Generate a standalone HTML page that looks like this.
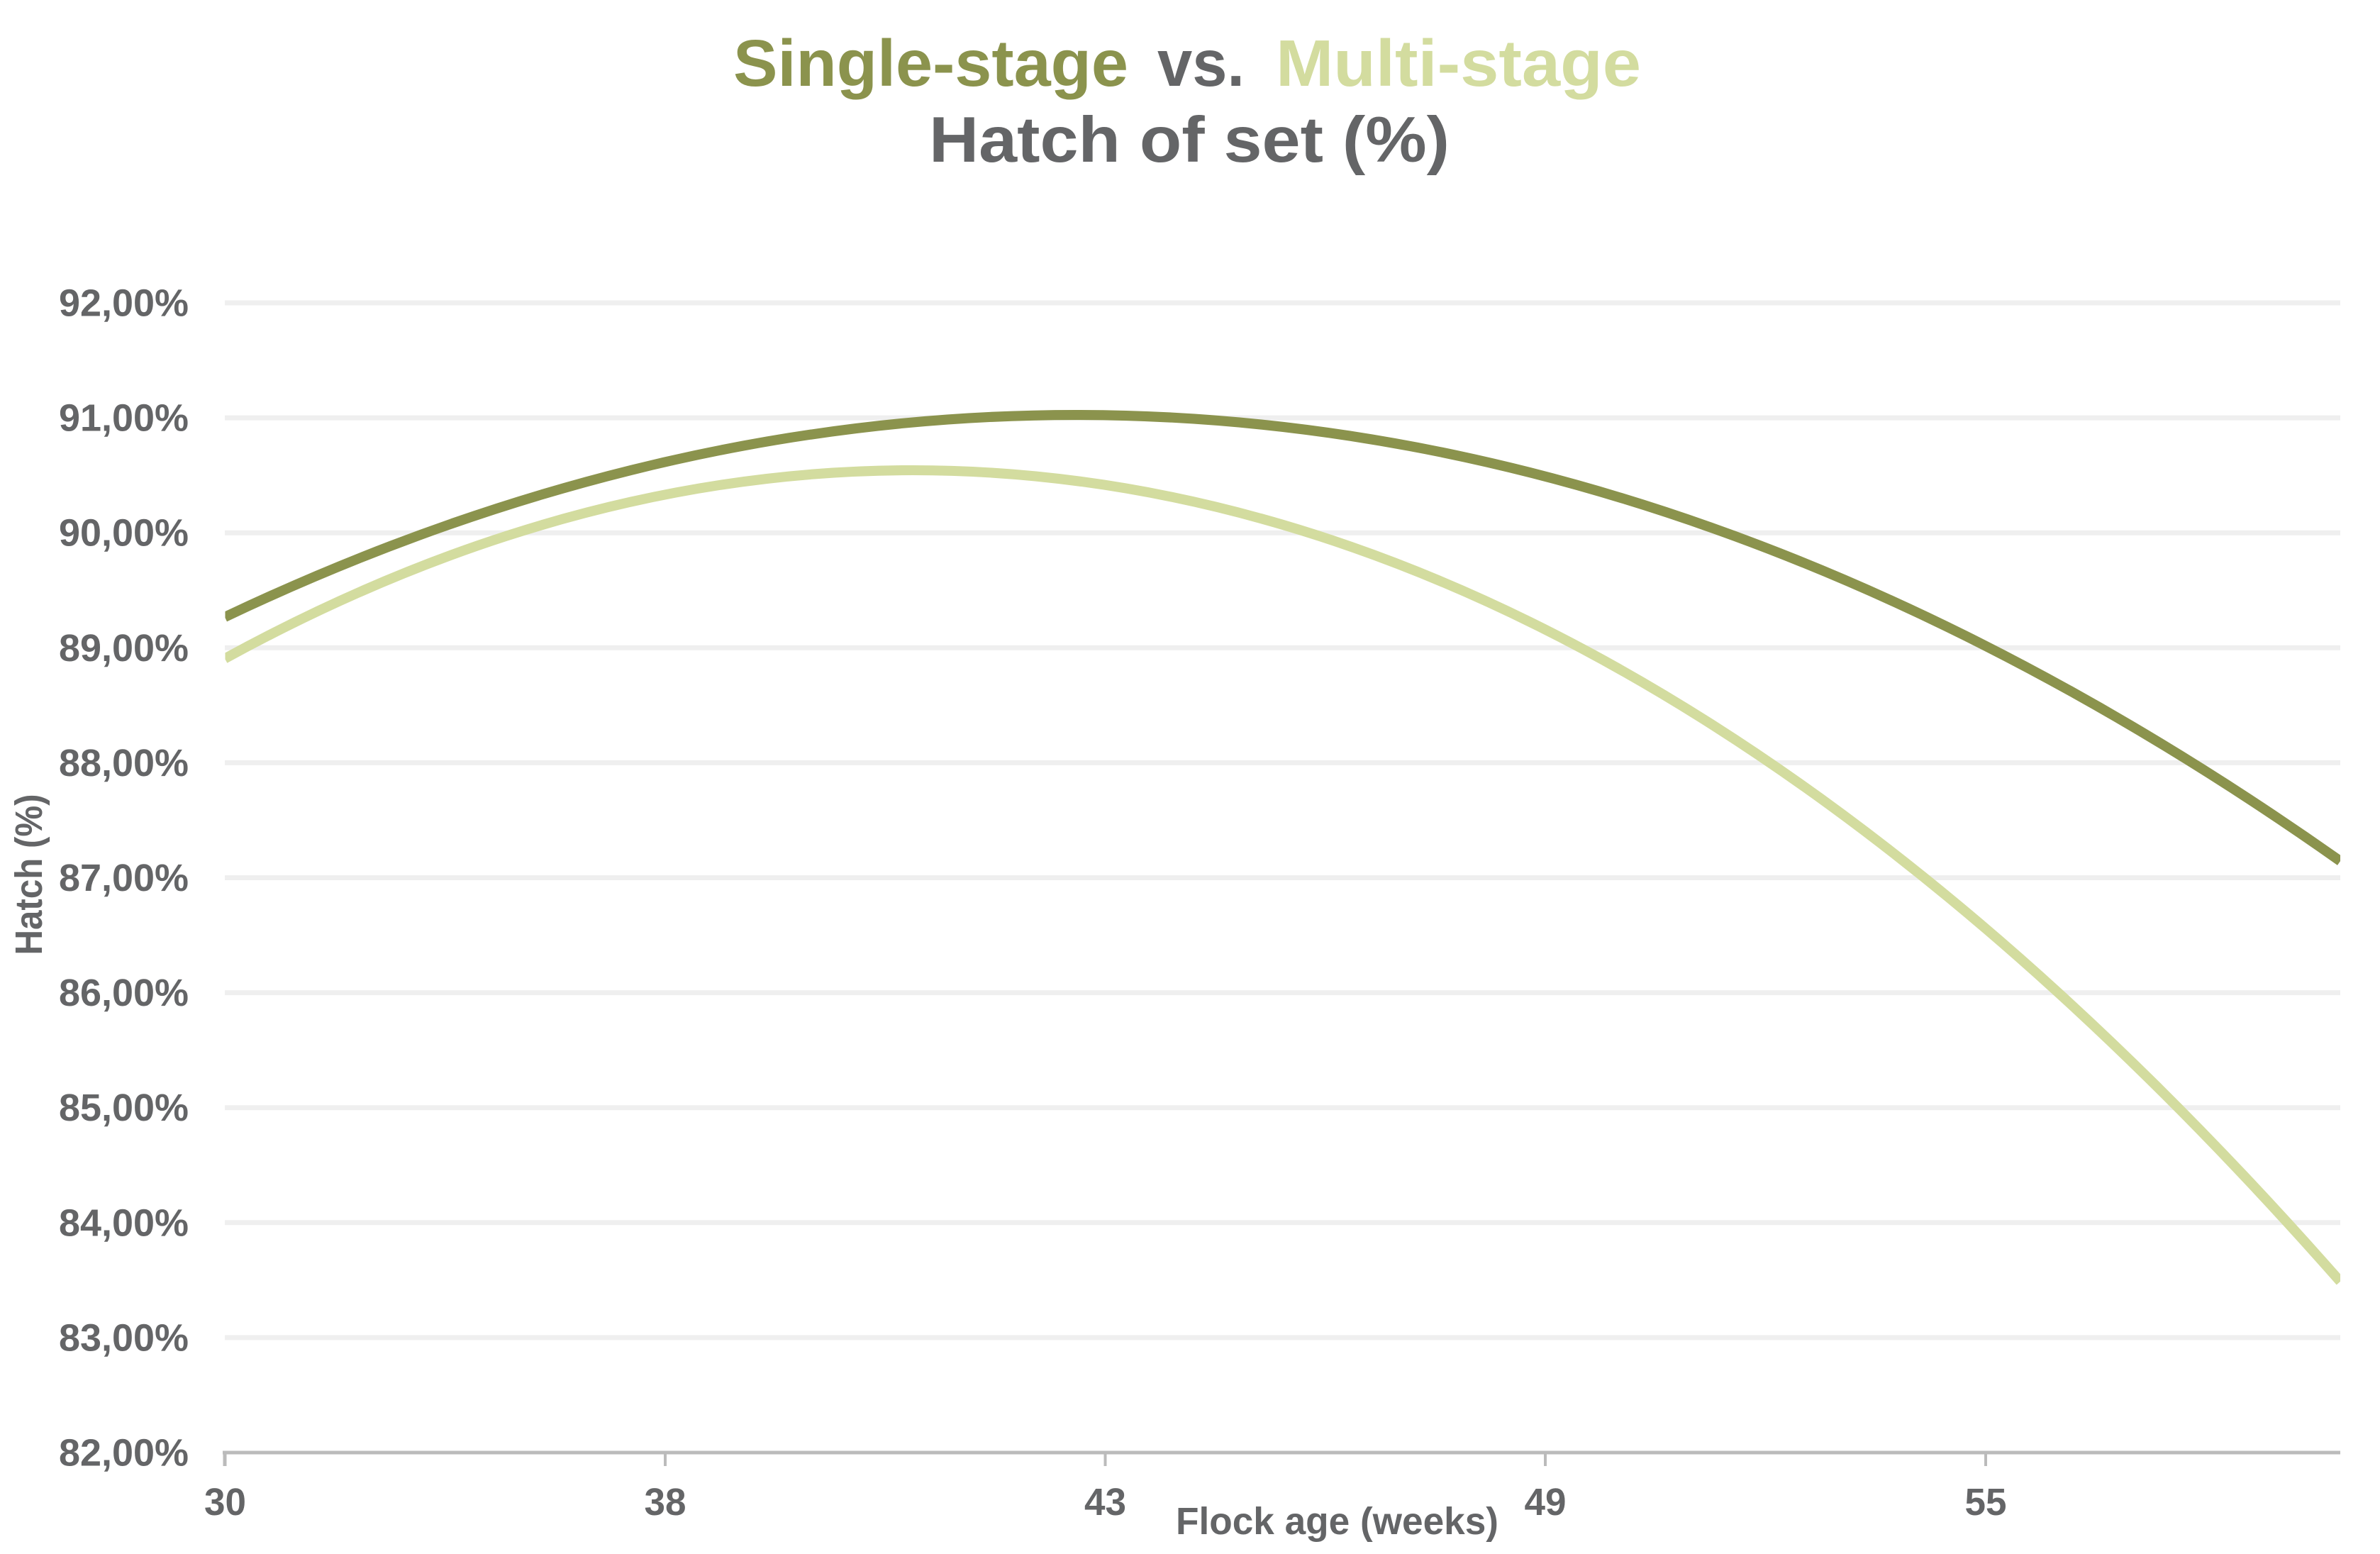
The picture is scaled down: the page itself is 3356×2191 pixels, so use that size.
<!DOCTYPE html>
<html>
<head>
<meta charset="utf-8">
<style>
  html, body { margin: 0; padding: 0; background: #ffffff; }
  svg { display: block; }
  text { font-family: "Liberation Sans", Arial, sans-serif; }
</style>
</head>
<body>
<svg width="3356" height="2191" viewBox="0 0 3356 2191" xmlns="http://www.w3.org/2000/svg">
  <rect x="0" y="0" width="3356" height="2191" fill="#ffffff"/>

  <!-- Title -->
  <text x="1034" y="121" font-size="93" font-weight="bold" fill="#8B934D" textLength="557" lengthAdjust="spacingAndGlyphs">Single-stage</text>
  <text x="1632" y="121" font-size="93" font-weight="bold" fill="#646567" textLength="123" lengthAdjust="spacingAndGlyphs">vs.</text>
  <text x="1799" y="121" font-size="93" font-weight="bold" fill="#D3DC9F" textLength="515" lengthAdjust="spacingAndGlyphs">Multi-stage</text>
  <text x="1310" y="228" font-size="91" font-weight="bold" fill="#646567" textLength="734" lengthAdjust="spacingAndGlyphs">Hatch of set (%)</text>

  <!-- Gridlines -->
  <g stroke="#EFEFEF" stroke-width="7">
    <line x1="317" y1="427" x2="3300" y2="427"/>
    <line x1="317" y1="589.1" x2="3300" y2="589.1"/>
    <line x1="317" y1="751.2" x2="3300" y2="751.2"/>
    <line x1="317" y1="913.3" x2="3300" y2="913.3"/>
    <line x1="317" y1="1075.4" x2="3300" y2="1075.4"/>
    <line x1="317" y1="1237.5" x2="3300" y2="1237.5"/>
    <line x1="317" y1="1399.6" x2="3300" y2="1399.6"/>
    <line x1="317" y1="1561.7" x2="3300" y2="1561.7"/>
    <line x1="317" y1="1723.8" x2="3300" y2="1723.8"/>
    <line x1="317" y1="1885.9" x2="3300" y2="1885.9"/>
  </g>

  <!-- X axis line and ticks -->
  <g stroke="#BBBBBB">
    <line x1="314" y1="2048" x2="3300" y2="2048" stroke-width="5"/>
    <line x1="317" y1="2046" x2="317" y2="2067" stroke-width="5"/>
    <line x1="938" y1="2046" x2="938" y2="2067" stroke-width="4"/>
    <line x1="1558.5" y1="2046" x2="1558.5" y2="2067" stroke-width="4"/>
    <line x1="2179" y1="2046" x2="2179" y2="2067" stroke-width="4"/>
    <line x1="2800" y1="2046" x2="2800" y2="2067" stroke-width="4"/>
  </g>

  <!-- Y tick labels -->
  <g font-size="54" font-weight="bold" fill="#646567" text-anchor="end">
    <text x="266" y="445.5" textLength="183" lengthAdjust="spacingAndGlyphs">92,00%</text>
    <text x="266" y="607.6" textLength="183" lengthAdjust="spacingAndGlyphs">91,00%</text>
    <text x="266" y="769.7" textLength="183" lengthAdjust="spacingAndGlyphs">90,00%</text>
    <text x="266" y="931.8" textLength="183" lengthAdjust="spacingAndGlyphs">89,00%</text>
    <text x="266" y="1093.9" textLength="183" lengthAdjust="spacingAndGlyphs">88,00%</text>
    <text x="266" y="1256" textLength="183" lengthAdjust="spacingAndGlyphs">87,00%</text>
    <text x="266" y="1418.1" textLength="183" lengthAdjust="spacingAndGlyphs">86,00%</text>
    <text x="266" y="1580.2" textLength="183" lengthAdjust="spacingAndGlyphs">85,00%</text>
    <text x="266" y="1742.3" textLength="183" lengthAdjust="spacingAndGlyphs">84,00%</text>
    <text x="266" y="1904.4" textLength="183" lengthAdjust="spacingAndGlyphs">83,00%</text>
    <text x="266" y="2066.5" textLength="183" lengthAdjust="spacingAndGlyphs">82,00%</text>
  </g>

  <!-- X tick labels -->
  <g font-size="54" font-weight="bold" fill="#646567" text-anchor="middle">
    <text x="317.5" y="2136" textLength="59" lengthAdjust="spacingAndGlyphs">30</text>
    <text x="938" y="2136" textLength="59" lengthAdjust="spacingAndGlyphs">38</text>
    <text x="1558.5" y="2136" textLength="59" lengthAdjust="spacingAndGlyphs">43</text>
    <text x="2179" y="2136" textLength="59" lengthAdjust="spacingAndGlyphs">49</text>
    <text x="2800" y="2136" textLength="59" lengthAdjust="spacingAndGlyphs">55</text>
  </g>

  <!-- Axis titles -->
  <text x="1658" y="2163" font-size="54" font-weight="bold" fill="#646567" textLength="455" lengthAdjust="spacingAndGlyphs">Flock age (weeks)</text>
  <text transform="translate(59,1233) rotate(-90)" x="0" y="0" font-size="54" font-weight="bold" fill="#646567" text-anchor="middle" textLength="227" lengthAdjust="spacingAndGlyphs">Hatch (%)</text>

  <!-- Series -->
  <defs>
    <clipPath id="plot">
      <rect x="317.5" y="300" width="2982.5" height="1748"/>
    </clipPath>
  </defs>
  <g clip-path="url(#plot)" fill="none" stroke-width="14" stroke-linecap="butt">
    <path d="M 317 928.6 Q 1808.5 111.8 3300 1806.9" stroke="#D3DC9F"/>
    <path d="M 317 870 Q 1808.5 161.6 3300 1214.1" stroke="#8B934D"/>
  </g>
</svg>
</body>
</html>
